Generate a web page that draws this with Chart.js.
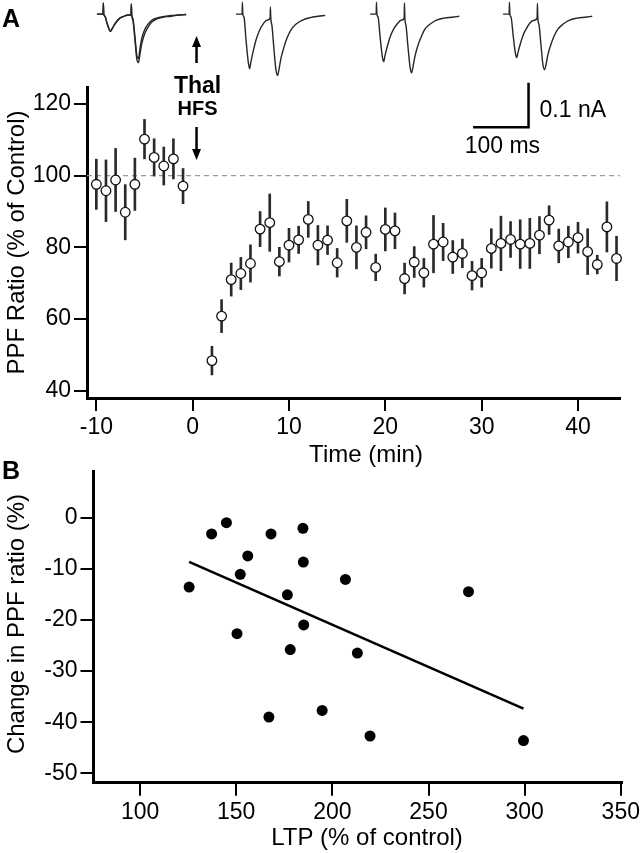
<!DOCTYPE html>
<html>
<head>
<meta charset="utf-8">
<title>PPF ratio after thalamic HFS</title>
<script src="https://cdn.jsdelivr.net/npm/chart.js@4.4.1/dist/chart.umd.min.js"></script>
<style>
  html, body { margin: 0; padding: 0; background: #fff; }
  #figure { position: relative; width: 643px; height: 853px; overflow: hidden; }
  #figure canvas { position: absolute; left: 0; }
  #panel-a { top: 0; }
  #traces { top: 0; }
  #panel-b { top: 455px; }
</style>
</head>
<body>
<div id="figure">
  <canvas id="panel-a" width="643" height="480"></canvas>
  <canvas id="panel-b" width="643" height="398"></canvas>
  <canvas id="traces" width="643" height="160"></canvas>
</div>
<script>
// ---- Panel A: PPF ratio (% of control) vs time ----
const timeMin = [-10, -9, -8, -7, -6, -5, -4, -3, -2, -1,
  2, 3, 4, 5, 6, 7, 8, 9, 10, 11, 12, 13, 14, 15, 16, 17, 18, 19, 20, 21, 22, 23,
  24, 25, 26, 27, 28, 29, 30, 31, 32, 33, 34, 35, 36, 37, 38, 39, 40, 41, 42, 43, 44];
const ppfMean = [97.6, 95.8, 98.8, 89.8, 97.6, 110.2, 105.1, 102.7, 104.7, 97.1,
  48.4, 60.8, 71.0, 72.7, 75.5, 85.1, 86.9, 76.0, 80.6, 82.1, 87.8, 80.6, 82.0, 75.7,
  87.4, 80.0, 84.2, 74.4, 85.0, 84.6, 71.3, 75.9, 72.9, 80.9, 81.5, 77.3, 78.3, 72.1,
  72.9, 79.7, 81.1, 82.2, 80.9, 81.1, 83.4, 87.6, 80.4, 81.5, 82.7, 78.8, 75.2, 85.7, 76.9];
const ppfSem = [7.0, 8.6, 8.8, 7.7, 7.3, 5.5, 5.2, 5.3, 5.6, 4.9,
  4.0, 4.6, 4.6, 4.5, 5.2, 4.9, 8.0, 4.0, 4.7, 3.8, 5.0, 5.5, 4.0, 4.0,
  6.0, 6.0, 4.6, 3.7, 6.0, 5.0, 4.3, 4.3, 4.0, 8.0, 5.2, 4.6, 4.0, 4.0,
  4.0, 5.5, 7.6, 5.0, 6.8, 7.0, 5.2, 4.0, 4.7, 4.4, 4.3, 6.4, 2.6, 7.0, 6.2];
const timeTicks = [-10, 0, 10, 20, 30, 40];
const ppfTicks = [40, 60, 80, 100, 120];
const controlLevel = 100;
const hfsTime = 0.4;

// ---- Panel B: change in PPF ratio vs LTP ----
const ltpPct = [125.5, 137.2, 144.9, 150.4, 152.1, 156.0, 167.0, 168.1, 176.6, 178.1,
  184.7, 184.9, 185.1, 194.7, 206.8, 213.0, 219.6, 270.8, 299.4];
const ppfChangePct = [-13.6, -3.2, -1.0, -22.7, -11.1, -7.5, -39.0, -3.2, -15.1, -25.8,
  -2.1, -8.7, -21.0, -37.7, -12.1, -26.5, -42.7, -14.5, -43.6];
const ltpTicks = [100, 150, 200, 250, 300, 350];
const changeTicks = [0, -10, -20, -30, -40, -50];

// ---- Example sweeps: time (ms) and current (pA, from baseline) ----
const sweepTimeMs = [0, 11, 11.5, 12.3, 14.5, 18, 22, 24.5, 27, 31, 36, 41.5, 48.5, 56, 61.5,
  62, 62.8, 65, 68.5, 72, 75, 77.5, 81, 86.5, 92, 99, 108, 119, 134, 148, 161];
const sweepPreA = [0, 0, 25, 0, -5, -20, -34, -39, -34, -25, -16, -9, -5, -2, -2,
  23, -2, -14, -57, -102, -109, -91, -66, -43, -30, -18, -11, -7, -5, -2, -1];
const sweepPreB = [0, 0, 25, 0, -5, -20, -34, -39, -34, -25, -16, -9, -5, -2, -2,
  23, -2, -11, -50, -93, -100, -79, -54, -34, -23, -14, -9, -6, -3, -2, -1];
const sweepPost1 = [0, 0, 27, 0, -7, -57, -107, -123, -107, -84, -59, -39, -23, -14, -9,
  16, -9, -27, -79, -125, -138, -125, -100, -75, -54, -36, -23, -14, -8, -5, -3];
const sweepPost2 = [0, 0, 27, 0, -7, -50, -95, -107, -93, -73, -52, -36, -23, -14, -9,
  25, -9, -27, -75, -118, -132, -118, -95, -70, -52, -34, -23, -14, -9, -7, -5];
const sweepPost3 = [0, 0, 27, 0, -7, -45, -86, -98, -86, -68, -48, -34, -20, -14, -9,
  24, -9, -25, -70, -114, -125, -114, -91, -68, -50, -34, -23, -14, -9, -7, -5];

// layout of the sweep strip (where each sweep sits, in strip ms)
const sweepOffsetsMs = [175, 426, 668, 908];
const scaleBarSpec = { cornerMs: 954, cornerPa: -254.7, ms: 100, pA: 100 };

const fontFamily = '"Liberation Sans", Arial, Helvetica, sans-serif';
Chart.defaults.font.family = fontFamily;
Chart.defaults.color = '#000';

function fixedTicks(values) {
  return function(scale) {
    scale.ticks = values.map(v => ({ value: v }));
  };
}

function axisStyle(tickValues, extra) {
  return Object.assign({
    type: 'linear',
    offset: false,
    afterBuildTicks: fixedTicks(tickValues),
    border: { display: true, color: '#000', width: 3 },
    grid: { offset: false, drawOnChartArea: false, drawTicks: true, tickLength: 13, color: '#000', lineWidth: 2 },
    ticks: { font: { size: 23 }, color: '#000', maxRotation: 0, autoSkip: false, padding: 3 }
  }, extra);
}

function drawArrow(ctx, x, yFrom, yTip) {
  const dir = yTip > yFrom ? 1 : -1;
  const headLen = 11, headHalf = 4.5;
  ctx.beginPath();
  ctx.moveTo(x, yFrom);
  ctx.lineTo(x, yTip - dir * headLen);
  ctx.stroke();
  ctx.beginPath();
  ctx.moveTo(x, yTip);
  ctx.lineTo(x - headHalf, yTip - dir * headLen);
  ctx.lineTo(x + headHalf, yTip - dir * headLen);
  ctx.closePath();
  ctx.fill();
}

function drawRotated(ctx, text, x, y) {
  ctx.save();
  ctx.translate(x, y);
  ctx.rotate(-Math.PI / 2);
  ctx.textAlign = 'center';
  ctx.textBaseline = 'alphabetic';
  ctx.fillText(text, 0, 0);
  ctx.restore();
}

const panelADecor = {
  id: 'panelADecor',
  beforeDatasetsDraw(chart) {
    const { ctx, chartArea, scales } = chart;
    const y = scales.y.getPixelForValue(controlLevel);
    ctx.save();
    ctx.strokeStyle = '#9a9a9a';
    ctx.lineWidth = 1.3;
    ctx.setLineDash([5, 4]);
    ctx.beginPath();
    ctx.moveTo(chartArea.left, y);
    ctx.lineTo(chartArea.right, y);
    ctx.stroke();
    ctx.restore();
  },
  afterDraw(chart) {
    const { ctx, scales } = chart;
    const x = scales.x.getPixelForValue(hfsTime);
    ctx.save();
    ctx.fillStyle = '#000';
    ctx.strokeStyle = '#000';
    ctx.lineWidth = 2.5;
    ctx.textBaseline = 'alphabetic';

    ctx.font = 'bold 25px ' + fontFamily;
    ctx.textAlign = 'left';
    ctx.fillText('A', 2, 27);

    // thalamic HFS marker
    drawArrow(ctx, x, 63, 36);
    ctx.textAlign = 'center';
    ctx.font = 'bold 23px ' + fontFamily;
    ctx.fillText('Thal', x + 1, 93);
    ctx.font = 'bold 20px ' + fontFamily;
    ctx.fillText('HFS', x + 1, 115);
    drawArrow(ctx, x, 127, 160);

    ctx.font = '24px ' + fontFamily;
    ctx.fillText('Time (min)', 366, 462);
    drawRotated(ctx, 'PPF Ratio (% of Control)', 24, 242.5);
    ctx.restore();
  }
};

const panelBDecor = {
  id: 'panelBDecor',
  afterDraw(chart) {
    const { ctx } = chart;
    ctx.save();
    ctx.fillStyle = '#000';
    ctx.textBaseline = 'alphabetic';
    ctx.font = 'bold 25px ' + fontFamily;
    ctx.textAlign = 'left';
    ctx.fillText('B', 2, 24);
    ctx.font = '24px ' + fontFamily;
    ctx.textAlign = 'center';
    ctx.fillText('LTP (% of control)', 367, 390);
    drawRotated(ctx, 'Change in PPF ratio (%)', 24, 169);
    ctx.restore();
  }
};

const scaleBar = {
  id: 'scaleBar',
  afterDatasetsDraw(chart) {
    const { ctx, scales: { x, y } } = chart;
    const x1 = x.getPixelForValue(scaleBarSpec.cornerMs);
    const x0 = x.getPixelForValue(scaleBarSpec.cornerMs - scaleBarSpec.ms);
    const y1 = y.getPixelForValue(scaleBarSpec.cornerPa);
    const y0 = y.getPixelForValue(scaleBarSpec.cornerPa + scaleBarSpec.pA);
    ctx.save();
    ctx.strokeStyle = '#000';
    ctx.lineWidth = 2.5;
    ctx.beginPath();
    ctx.moveTo(x0, y1);
    ctx.lineTo(x1, y1);
    ctx.lineTo(x1, y0);
    ctx.stroke();
    ctx.fillStyle = '#000';
    ctx.font = '23px ' + fontFamily;
    ctx.textBaseline = 'alphabetic';
    ctx.textAlign = 'left';
    ctx.fillText('0.1 nA', x1 + 11, y1 - 10.5);
    ctx.textAlign = 'center';
    ctx.fillText('100 ms', (x0 + x1) / 2 + 1.5, y1 + 26);
    ctx.restore();
  }
};

const baseOptions = {
  responsive: false,
  animation: false,
  devicePixelRatio: 1,
  events: [],
  plugins: { legend: { display: false }, tooltip: { enabled: false } }
};

// Panel A
new Chart(document.getElementById('panel-a'), {
  type: 'scatter',
  data: {
    datasets: [
      {
        // SEM bars as thin floating bars
        type: 'bar',
        data: timeMin.map((t, i) => ({ x: t, y: [ppfMean[i] - ppfSem[i], ppfMean[i] + ppfSem[i]] })),
        backgroundColor: '#2a2a2a',
        borderWidth: 0,
        barThickness: 2,
        clip: false,
        order: 2
      },
      {
        type: 'scatter',
        data: timeMin.map((t, i) => ({ x: t, y: ppfMean[i] })),
        pointRadius: 4.8,
        pointBorderWidth: 1.3,
        pointBorderColor: '#111',
        pointBackgroundColor: '#fff',
        clip: false,
        order: 1
      }
    ]
  },
  options: Object.assign({}, baseOptions, {
    layout: { padding: { top: 87, right: 23, left: 0, bottom: 0 } },
    scales: {
      x: axisStyle(timeTicks, {
        min: -10.97, max: 44.36,
        afterFit(scale) { scale.height = 82; }
      }),
      y: axisStyle(ppfTicks, {
        min: 37.96, max: 124.75,
        afterFit(scale) { scale.width = 87; }
      })
    }
  }),
  plugins: [panelADecor]
});

// Panel B
function leastSquares(xs, ys) {
  const n = xs.length;
  const mx = xs.reduce((a, b) => a + b, 0) / n;
  const my = ys.reduce((a, b) => a + b, 0) / n;
  let sxy = 0, sxx = 0;
  xs.forEach((x, i) => {
    sxy += (x - mx) * (ys[i] - my);
    sxx += (x - mx) * (x - mx);
  });
  const slope = sxy / sxx;
  return { slope: slope, intercept: my - slope * mx };
}

const fit = leastSquares(ltpPct, ppfChangePct);
const fitX = [Math.min(...ltpPct), Math.max(...ltpPct)];

new Chart(document.getElementById('panel-b'), {
  type: 'scatter',
  data: {
    datasets: [
      {
        type: 'line',
        data: fitX.map(x => ({ x: x, y: fit.intercept + fit.slope * x })),
        borderColor: '#000',
        borderWidth: 2.6,
        pointRadius: 0,
        fill: false,
        order: 2
      },
      {
        type: 'scatter',
        data: ltpPct.map((x, i) => ({ x: x, y: ppfChangePct[i] })),
        pointRadius: 5.5,
        pointBorderWidth: 0,
        pointBackgroundColor: '#000',
        clip: false,
        order: 1
      }
    ]
  },
  options: Object.assign({}, baseOptions, {
    layout: { padding: { top: 15, right: 20, left: 0, bottom: 0 } },
    scales: {
      x: axisStyle(ltpTicks, {
        min: 75.77, max: 350.5,
        afterFit(scale) { scale.height = 70.3; }
      }),
      y: axisStyle(changeTicks, {
        min: -51.83, max: 8.94,
        afterFit(scale) { scale.width = 93.5; }
      })
    }
  }),
  plugins: [panelBDecor]
});

// Sweep strip above panel A
const sweeps = [
  { values: sweepPreA, slot: 0 },
  { values: sweepPreB, slot: 0 },
  { values: sweepPost1, slot: 1 },
  { values: sweepPost2, slot: 2 },
  { values: sweepPost3, slot: 3 }
];

new Chart(document.getElementById('traces'), {
  type: 'line',
  data: {
    datasets: sweeps.map(s => ({
      data: sweepTimeMs.map((t, i) => ({ x: sweepOffsetsMs[s.slot] + t, y: s.values[i] })),
      borderColor: '#262626',
      borderWidth: 1.4,
      pointRadius: 0,
      fill: false,
      cubicInterpolationMode: 'monotone',
      clip: false
    }))
  },
  options: Object.assign({}, baseOptions, {
    layout: { padding: 0 },
    scales: {
      x: { type: 'linear', display: false, min: 0, max: 1160.6 },
      y: { type: 'linear', display: false, min: -328.3, max: 31.7 }
    }
  }),
  plugins: [scaleBar]
});
</script>
</body>
</html>
